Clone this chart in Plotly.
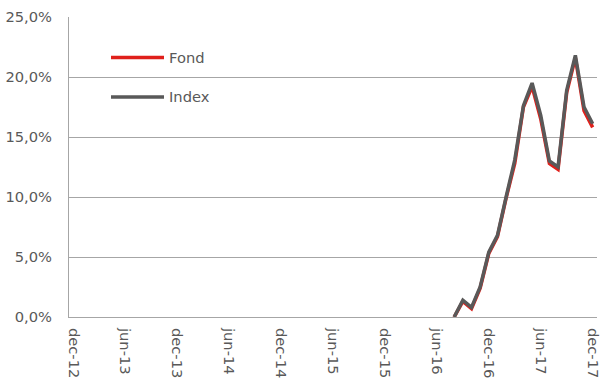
import plotly.graph_objects as go

# Monthly categories dec-12 .. dec-17
months = ["jan", "feb", "mar", "apr", "maj", "jun", "jul", "aug", "sep", "okt", "nov", "dec"]
categories = ["dec-12"]
for yr in range(13, 18):
    for m in months:
        categories.append(f"{m}-{yr}")

# Cumulative return (%) from aug-16 to dec-17
start_label = "aug-16"
fond = [0.0, 1.3, 0.7, 2.4, 5.3, 6.7, 9.9, 12.8, 17.5, 19.2, 16.5, 12.8, 12.3, 18.7, 21.6, 17.2, 15.8]
index = [0.0, 1.4, 0.8, 2.5, 5.4, 6.8, 10.0, 13.1, 17.6, 19.5, 16.8, 13.0, 12.5, 18.9, 21.8, 17.5, 16.1]

tick_labels = ["dec-12", "jun-13", "dec-13", "jun-14", "dec-14", "jun-15",
               "dec-15", "jun-16", "dec-16", "jun-17", "dec-17"]
y_ticks = [0, 5, 10, 15, 20, 25]

i0 = categories.index(start_label)
x_vals = list(range(i0, i0 + len(index)))
tick_pos = [categories.index(t) for t in tick_labels]
y_text = [f"{v:.1f}".replace(".", ",") + "%" for v in y_ticks]

RED = "#e0201b"
GREY = "#595959"
TEXT = "#595959"
GRID = "#a6a6a6"
FONT = "DejaVu Sans"
FS = 14.7

fig = go.Figure()
fig.add_trace(go.Scatter(x=x_vals, y=fond, mode="lines", name="Fond",
                         line=dict(color=RED, width=3.5), showlegend=False))
fig.add_trace(go.Scatter(x=x_vals, y=index, mode="lines", name="Index",
                         line=dict(color=GREY, width=3.5), showlegend=False))

# Legend drawn inside the plot area
for yy, name, col in [(57.5, "Fond", RED), (97, "Index", GREY)]:
    fig.add_shape(type="line", xref="paper", yref="paper",
                  x0=(111 - 69) / 528, x1=(164 - 69) / 528,
                  y0=1 - (yy - 17) / 300, y1=1 - (yy - 17) / 300,
                  line=dict(color=col, width=3.5))
    fig.add_annotation(xref="paper", yref="paper", x=(167 - 69) / 528,
                       y=1 - (yy - 17) / 300, text=name, showarrow=False,
                       xanchor="left", yanchor="middle",
                       font=dict(family=FONT, size=FS, color=TEXT))

fig.update_layout(
    width=601, height=380,
    margin=dict(l=69, r=4, t=17, b=63),
    paper_bgcolor="white", plot_bgcolor="white",
    font=dict(family=FONT, size=FS, color=TEXT),
)
fig.update_xaxes(
    range=[-0.5, len(categories) - 0.5],
    tickmode="array", tickvals=tick_pos, ticktext=tick_labels,
    tickangle=90, showgrid=False, zeroline=False,
    showline=True, linecolor=GRID, linewidth=1, ticks="",
    ticklabeloverflow="allow", automargin=False, ticklabelstandoff=7,
    tickfont=dict(family=FONT, size=FS, color=TEXT),
)
fig.update_yaxes(
    range=[0, 25], tickmode="array", tickvals=y_ticks, ticktext=y_text,
    showgrid=True, gridcolor=GRID, gridwidth=1, zeroline=False,
    showline=True, linecolor=GRID, linewidth=1, ticks="",
    ticklabelstandoff=13, automargin=False,
    tickfont=dict(family=FONT, size=FS, color=TEXT),
)

fig.write_html("out.html")
